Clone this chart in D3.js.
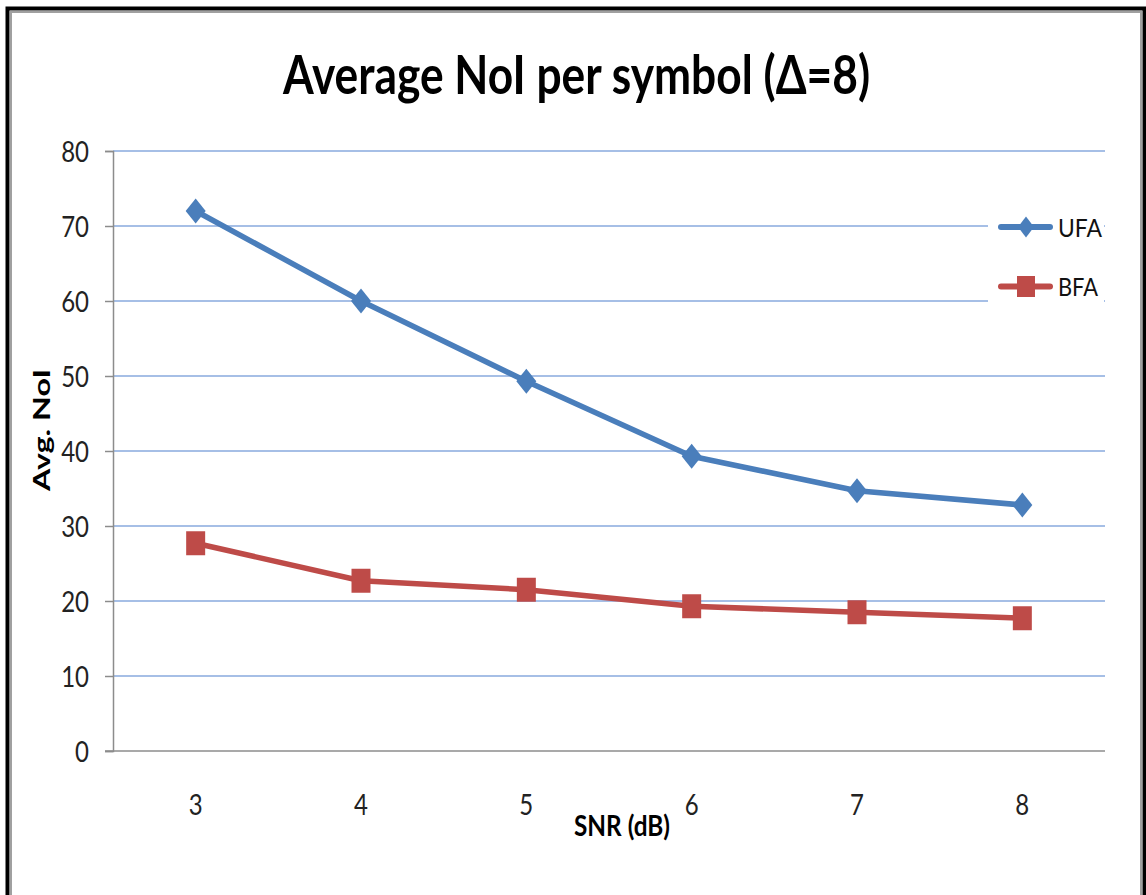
<!DOCTYPE html>
<html>
<head>
<meta charset="utf-8">
<script src="https://cdn.jsdelivr.net/npm/d3@7"></script>
<style>
  html, body { margin: 0; padding: 0; background: #fff; }
  #chart { width: 1146px; height: 895px; }
  text { font-family: Lato, "Open Sans", "Liberation Sans", sans-serif; }
</style>
</head>
<body>
<div id="chart"></div>
<script>
// Data
const snrLevels = ["3", "4", "5", "6", "7", "8"];
const ufaValues = [72, 60, 49.3, 39.3, 34.7, 32.8];
const bfaValues = [27.7, 22.7, 21.5, 19.3, 18.5, 17.7];
const yTicks = [0, 10, 20, 30, 40, 50, 60, 70, 80];
const seriesNames = ["UFA", "BFA"];

const width = 1146, height = 895;
const plot = {left: 113, right: 1105, top: 151, bottom: 751};
const CAP = 0.72; // approx cap height of Lato, in em

const svg = d3.select("#chart").append("svg")
    .attr("width", width)
    .attr("height", height);

// The source picture is a bit stretched vertically: texts are drawn with
// a font size matching the cap height and squeezed/stretched to the width.
function fitText(x, y, str, targetWidth, capHeight, opts = {}) {
    const g = svg.append("g");
    const size = capHeight / CAP;
    const t = g.append("text")
        .attr("font-size", size)
        .attr("font-weight", opts.bold ? "bold" : "normal")
        .attr("fill", opts.fill || "#000")
        .text(str);
    const len = t.node().getComputedTextLength();
    const sx = targetWidth / len;
    const anchorShift = opts.anchor === "middle" ? -targetWidth / 2 : 0;
    const rot = opts.rotate ? ` rotate(${opts.rotate})` : "";
    g.attr("transform", `translate(${x},${y})${rot} translate(${anchorShift},0) scale(${sx},1)`);
    return g;
}

// Outer frame (black with a grey inner edge)
svg.append("rect").attr("x", 0).attr("y", 0).attr("width", width).attr("height", height).attr("fill", "#fff");
svg.append("path")
    .attr("d", `M7.5,${height} V8.5 H1144.5 V${height}`)
    .attr("fill", "none").attr("stroke", "#000").attr("stroke-width", 4);
svg.append("path")
    .attr("d", `M11,${height} V12 H1141 V${height}`)
    .attr("fill", "none").attr("stroke", "#a0a0a0").attr("stroke-width", 2);

const x = d3.scaleBand()
    .domain(snrLevels)
    .range([plot.left, plot.right]);

const y = d3.scaleLinear()
    .domain([0, 80])
    .range([plot.bottom, plot.top]);

const cx = d => x(d) + x.bandwidth() / 2;

// Title
fitText(576.5, 94, "Average NoI per symbol (\u0394=8)", 587, 38, {bold: true, anchor: "middle"});

// Gridlines
svg.append("g").selectAll("line")
    .data(yTicks.filter(t => t > 0))
    .enter().append("line")
    .attr("x1", plot.left).attr("x2", plot.right)
    .attr("y1", d => y(d)).attr("y2", d => y(d))
    .attr("stroke", "#a6bfe6").attr("stroke-width", 2);

const tickFont = 24, tickStretch = 1.22;

// Y axis
const yAxis = d3.axisLeft(y).tickValues(yTicks).tickSize(8).tickPadding(16);
const gy = svg.append("g")
    .attr("transform", `translate(${plot.left},0)`)
    .call(yAxis);
gy.select(".domain").attr("stroke", "#8c8c8c").attr("stroke-width", 1.5);
gy.selectAll(".tick line").attr("stroke", "#8c8c8c").attr("stroke-width", 1.5);
gy.selectAll(".tick text")
    .attr("font-size", tickFont).attr("fill", "#222")
    .attr("font-family", "Lato, 'Open Sans', sans-serif")
    .attr("dy", 0)
    .attr("y", (tickFont * CAP / 2) )
    .attr("transform", `scale(1,${tickStretch})`);

// X axis
const xAxis = d3.axisBottom(x).tickSize(0).tickPadding(0);
const gx = svg.append("g")
    .attr("transform", `translate(0,${plot.bottom})`)
    .call(xAxis);
gx.select(".domain").attr("d", `M${plot.left - 8},0H${plot.right}`)
    .attr("stroke", "#8c8c8c").attr("stroke-width", 1.5);
gx.selectAll(".tick text")
    .attr("font-size", tickFont).attr("fill", "#222")
    .attr("font-family", "Lato, 'Open Sans', sans-serif")
    .attr("dy", 0)
    .attr("y", 64 / tickStretch)
    .attr("transform", `scale(1,${tickStretch})`);

// Axis titles
fitText(622, 836, "SNR (dB)", 96, 20, {bold: true, anchor: "middle"});
fitText(50, 430, "Avg. NoI", 122, 17, {bold: true, anchor: "middle", rotate: -90});

// Series
const diamond = (w, h) => `M0,${-h}L${w},0L0,${h}L${-w},0Z`;
const rectPath = (w, h) => `M${-w},${-h}H${w}V${h}H${-w}Z`;

const series = [
    {name: seriesNames[0], values: ufaValues, color: "#4a7ebb",
     marker: diamond(10, 12.5), legendMarker: diamond(8, 10.5), labelW: 44},
    {name: seriesNames[1], values: bfaValues, color: "#be4b48",
     marker: rectPath(9.5, 12), legendMarker: rectPath(9, 10.5), labelW: 40}
];

const line = d3.line()
    .x((d, i) => cx(snrLevels[i]))
    .y(d => y(d));

series.forEach(s => {
    svg.append("path")
        .datum(s.values)
        .attr("d", line)
        .attr("fill", "none")
        .attr("stroke", s.color)
        .attr("stroke-width", 5.5)
        .attr("stroke-linejoin", "round");

    svg.append("g").selectAll("path")
        .data(s.values)
        .enter().append("path")
        .attr("transform", (d, i) => `translate(${cx(snrLevels[i])},${y(d)})`)
        .attr("d", s.marker)
        .attr("fill", s.color);
});

// Legend
const legend = svg.append("g");
legend.append("rect")
    .attr("x", 988).attr("y", 195)
    .attr("width", 116).attr("height", 120)
    .attr("fill", "#fff");

series.forEach((s, i) => {
    const ly = 227 + i * 59.5;
    legend.append("line")
        .attr("x1", 1001).attr("x2", 1050)
        .attr("y1", ly).attr("y2", ly)
        .attr("stroke", s.color).attr("stroke-width", 6)
        .attr("stroke-linecap", "round");
    legend.append("path")
        .attr("transform", `translate(1026,${ly})`)
        .attr("d", s.legendMarker)
        .attr("fill", s.color);
    fitText(1058, ly + 9.5, s.name, s.labelW, 18, {fill: "#111"});
});
</script>
</body>
</html>
